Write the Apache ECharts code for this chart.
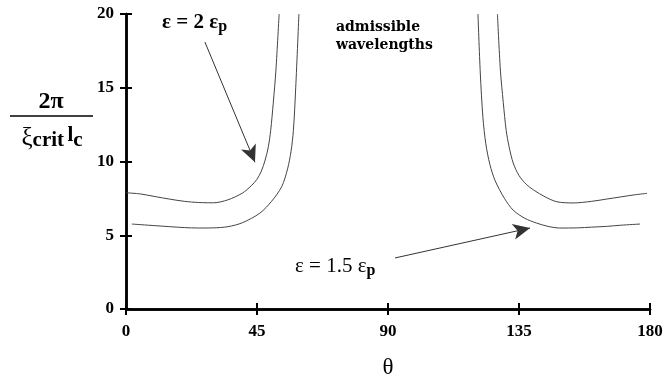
<!DOCTYPE html>
<html>
<head>
<meta charset="utf-8">
<script src="https://cdn.jsdelivr.net/npm/echarts@6/dist/echarts.min.js"></script>
<style>
  html, body { margin: 0; padding: 0; background: #fff; }
  #chart { width: 666px; height: 379px; }
</style>
</head>
<body>
<div id="chart"></div>
<script>
// x ticks / y ticks
var xTicks = [0, 45, 90, 135, 180];
var yTicks = [0, 5, 10, 15, 20];

// eps = 2 eps_p, left and right branch [theta, value]
var eps2Left = [[0, 7.88], [5, 7.8], [10, 7.62], [15, 7.45], [20, 7.3], [25, 7.22], [30, 7.2],
    [35, 7.4], [40, 7.86], [43, 8.35], [45, 8.8], [46.5, 9.35], [47.8, 10.1], [48.9, 11.0],
    [49.7, 12.1], [50.6, 14], [51.5, 16.2], [52.6, 20]];
var eps2Right = [[127.6, 20], [128.6, 16.2], [129.6, 14], [130.6, 12.1], [131.6, 11], [133, 9.9],
    [135, 9.05], [137.5, 8.45], [140, 8.07], [144, 7.6], [148, 7.27], [153.6, 7.19], [160, 7.3],
    [165, 7.45], [170, 7.6], [175, 7.75], [179, 7.84]];

// eps = 1.5 eps_p
var eps15Left = [[2, 5.76], [10, 5.65], [20, 5.52], [25, 5.49], [30, 5.5], [35, 5.58], [40, 5.85],
    [46, 6.5], [50, 7.3], [53.5, 8.3], [55.5, 9.5], [56.7, 10.7], [57.5, 12.1], [58.3, 15], [59.4, 20]];
var eps15Right = [[120.9, 20], [121.7, 16], [122.6, 13], [123.6, 11.2], [125, 9.8], [126.8, 8.7],
    [130, 7.5], [133, 6.7], [137, 6.15], [141, 5.83], [145, 5.6], [149, 5.49], [155, 5.5],
    [160, 5.55], [165, 5.6], [170, 5.68], [176.6, 5.76]];

// annotation arrows [from, to]
var arrowTop = [[27.1, 18.1], [44.3, 9.95]];
var arrowBottom = [[92.4, 3.46], [138.8, 5.49]];

var serif = '"Liberation Serif", "DejaVu Serif", serif';
var wide = '"DejaVu Serif", serif';
var chart = echarts.init(document.getElementById('chart'));

function curve(d) {
    return {
        type: 'line',
        data: d,
        showSymbol: false,
        smooth: 0.3,
        lineStyle: { color: '#444', width: 1 },
        silent: true
    };
}

function arrow(a) {
    return [{ coord: a[0] }, { coord: a[1] }];
}

var axisBase = {
    min: 0,
    axisLine: { show: true, lineStyle: { color: '#000', width: 2.5 } },
    splitLine: { show: false }
};

var option = {
    animation: false,
    grid: { left: 126, right: 16, top: 14, bottom: 70, outerBoundsMode: 'none', containLabel: false },
    xAxis: [
        Object.assign({}, axisBase, {
            type: 'value', max: 180, interval: 45,
            axisTick: { show: true, inside: false, length: 6, lineStyle: { color: '#000', width: 2 } },
            axisLabel: { margin: 14, fontFamily: serif, fontWeight: 'bold', fontSize: 17, color: '#000' },
            name: 'θ', nameLocation: 'middle', nameGap: 47,
            nameTextStyle: { fontFamily: serif, fontSize: 23, color: '#000' }
        }),
        Object.assign({}, axisBase, {
            type: 'value', max: 180, interval: 45, position: 'bottom',
            axisTick: { show: true, inside: true, length: 6, lineStyle: { color: '#000', width: 2 } },
            axisLabel: { show: false }
        })
    ],
    yAxis: [
        Object.assign({}, axisBase, {
            type: 'value', max: 20, interval: 5,
            axisTick: { show: true, inside: false, length: 6, lineStyle: { color: '#000', width: 2 } },
            axisLabel: { margin: 12, fontFamily: serif, fontWeight: 'bold', fontSize: 17, color: '#000' }
        }),
        Object.assign({}, axisBase, {
            type: 'value', max: 20, interval: 5, position: 'left',
            axisTick: { show: true, inside: true, length: 6, lineStyle: { color: '#000', width: 2 } },
            axisLabel: { show: false }
        })
    ],
    series: [
        Object.assign(curve(eps2Left), {
            markLine: {
                silent: true,
                symbol: ['none', 'arrow'],
                symbolSize: [12, 17],
                label: { show: false },
                lineStyle: { color: '#333', width: 1, type: 'solid' },
                data: [arrow(arrowTop), arrow(arrowBottom)]
            }
        }),
        curve(eps2Right),
        curve(eps15Left),
        curve(eps15Right)
    ],
    graphic: [
        {
            type: 'text', left: 162, top: 12,
            style: {
                text: '{a|ε = 2 ε}{s|p}',
                rich: {
                    a: { fontFamily: serif, fontWeight: 'bold', fontSize: 21, fill: '#000' },
                    s: { fontFamily: serif, fontWeight: 'bold', fontSize: 16, fill: '#000', padding: [9, 0, 0, 0] }
                }
            }
        },
        {
            type: 'text', left: 295, top: 256,
            style: {
                text: '{a|ε = 1.5 ε}{s|p}',
                rich: {
                    a: { fontFamily: serif, fontSize: 21, fill: '#000' },
                    s: { fontFamily: serif, fontWeight: 'bold', fontSize: 16, fill: '#000', padding: [9, 0, 0, 0] }
                }
            }
        },
        {
            type: 'text', x: 336, y: 36,
            style: {
                text: 'admissible\nwavelengths', align: 'left', verticalAlign: 'middle',
                fontFamily: wide, fontWeight: 'bold', fontSize: 14, lineHeight: 18, fill: '#000'
            }
        },
        {
            type: 'text', x: 51, y: 102,
            style: {
                text: '2π', align: 'center', verticalAlign: 'middle',
                fontFamily: serif, fontWeight: 'bold', fontSize: 24, fill: '#000'
            }
        },
        {
            type: 'line',
            shape: { x1: 10, y1: 116, x2: 93, y2: 116 },
            style: { stroke: '#000', lineWidth: 1.5 }
        },
        {
            type: 'text', x: 52, y: 138,
            style: {
                text: '{x|ξ}{c|crit} {l|l}{s|c}', align: 'center', verticalAlign: 'middle',
                rich: {
                    x: { fontFamily: serif, fontSize: 25, fill: '#000' },
                    c: { fontFamily: serif, fontWeight: 'bold', fontSize: 21, fill: '#000', padding: [5, 0, 0, 0] },
                    l: { fontFamily: serif, fontWeight: 'bold', fontSize: 21, fill: '#000', padding: [0, 0, 4, 0] },
                    s: { fontFamily: serif, fontWeight: 'bold', fontSize: 21, fill: '#000', padding: [5, 0, 0, 0] }
                }
            }
        }
    ]
};

chart.setOption(option);
</script>
</body>
</html>
